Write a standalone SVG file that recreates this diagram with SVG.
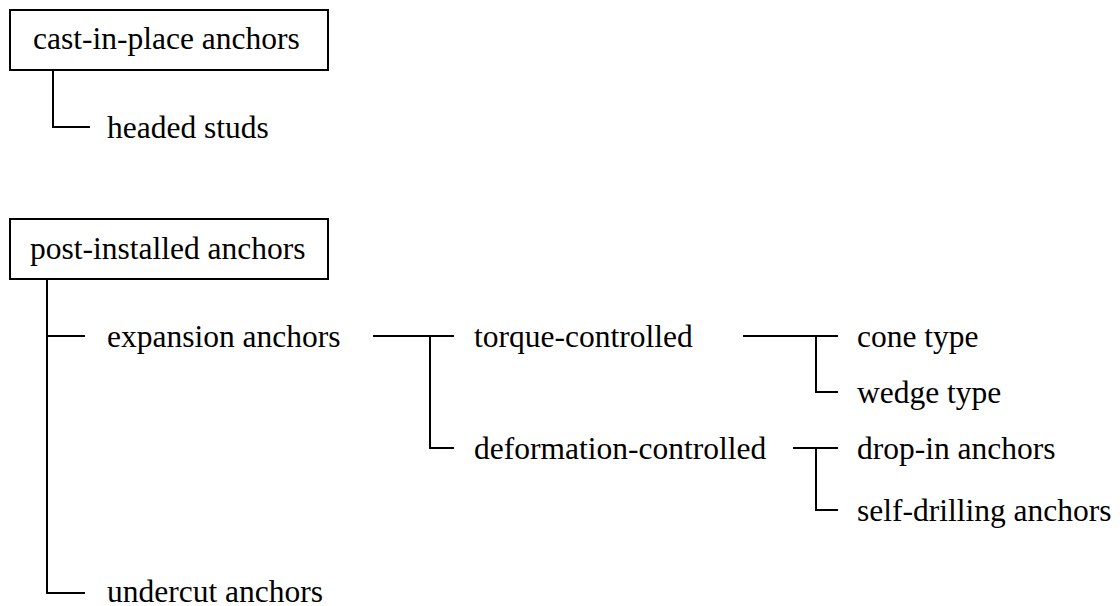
<svg xmlns="http://www.w3.org/2000/svg" width="1120" height="606" viewBox="0 0 1120 606">
<style>
text{font-family:"Liberation Serif","Times New Roman",Times,serif;font-size:31.5px;fill:#000}
.box{fill:#fff;stroke:#000;stroke-width:2}
.c{fill:none;stroke:#000;stroke-width:2}
</style>
<rect width="1120" height="606" fill="#fff"/>
<g id="connectors">
<path class="c" d="M53 70V127H90"/>
<path class="c" d="M47 279V593H85M47 336H85"/>
<path class="c" d="M373 336H454M430 336V448H454"/>
<path class="c" d="M743 336H838M816 336V392H838"/>
<path class="c" d="M793 448H838M816 448V510H838"/>
</g>
<g id="n-cast"><rect class="box" x="10" y="10" width="318" height="60"/><text x="33" y="49">cast-in-place anchors</text></g>
<g id="n-headed"><text x="107" y="138">headed studs</text></g>
<g id="n-post"><rect class="box" x="10" y="219" width="318" height="60"/><text x="30" y="259">post-installed anchors</text></g>
<g id="n-expansion"><text x="107" y="347">expansion anchors</text></g>
<g id="n-torque"><text x="474" y="347">torque-controlled</text></g>
<g id="n-deformation"><text x="474" y="459">deformation-controlled</text></g>
<g id="n-cone"><text x="857" y="347">cone type</text></g>
<g id="n-wedge"><text x="857" y="403">wedge type</text></g>
<g id="n-dropin"><text x="857" y="459">drop-in anchors</text></g>
<g id="n-selfdrill"><text x="857" y="521">self-drilling anchors</text></g>
<g id="n-undercut"><text x="107" y="602">undercut anchors</text></g>
</svg>
